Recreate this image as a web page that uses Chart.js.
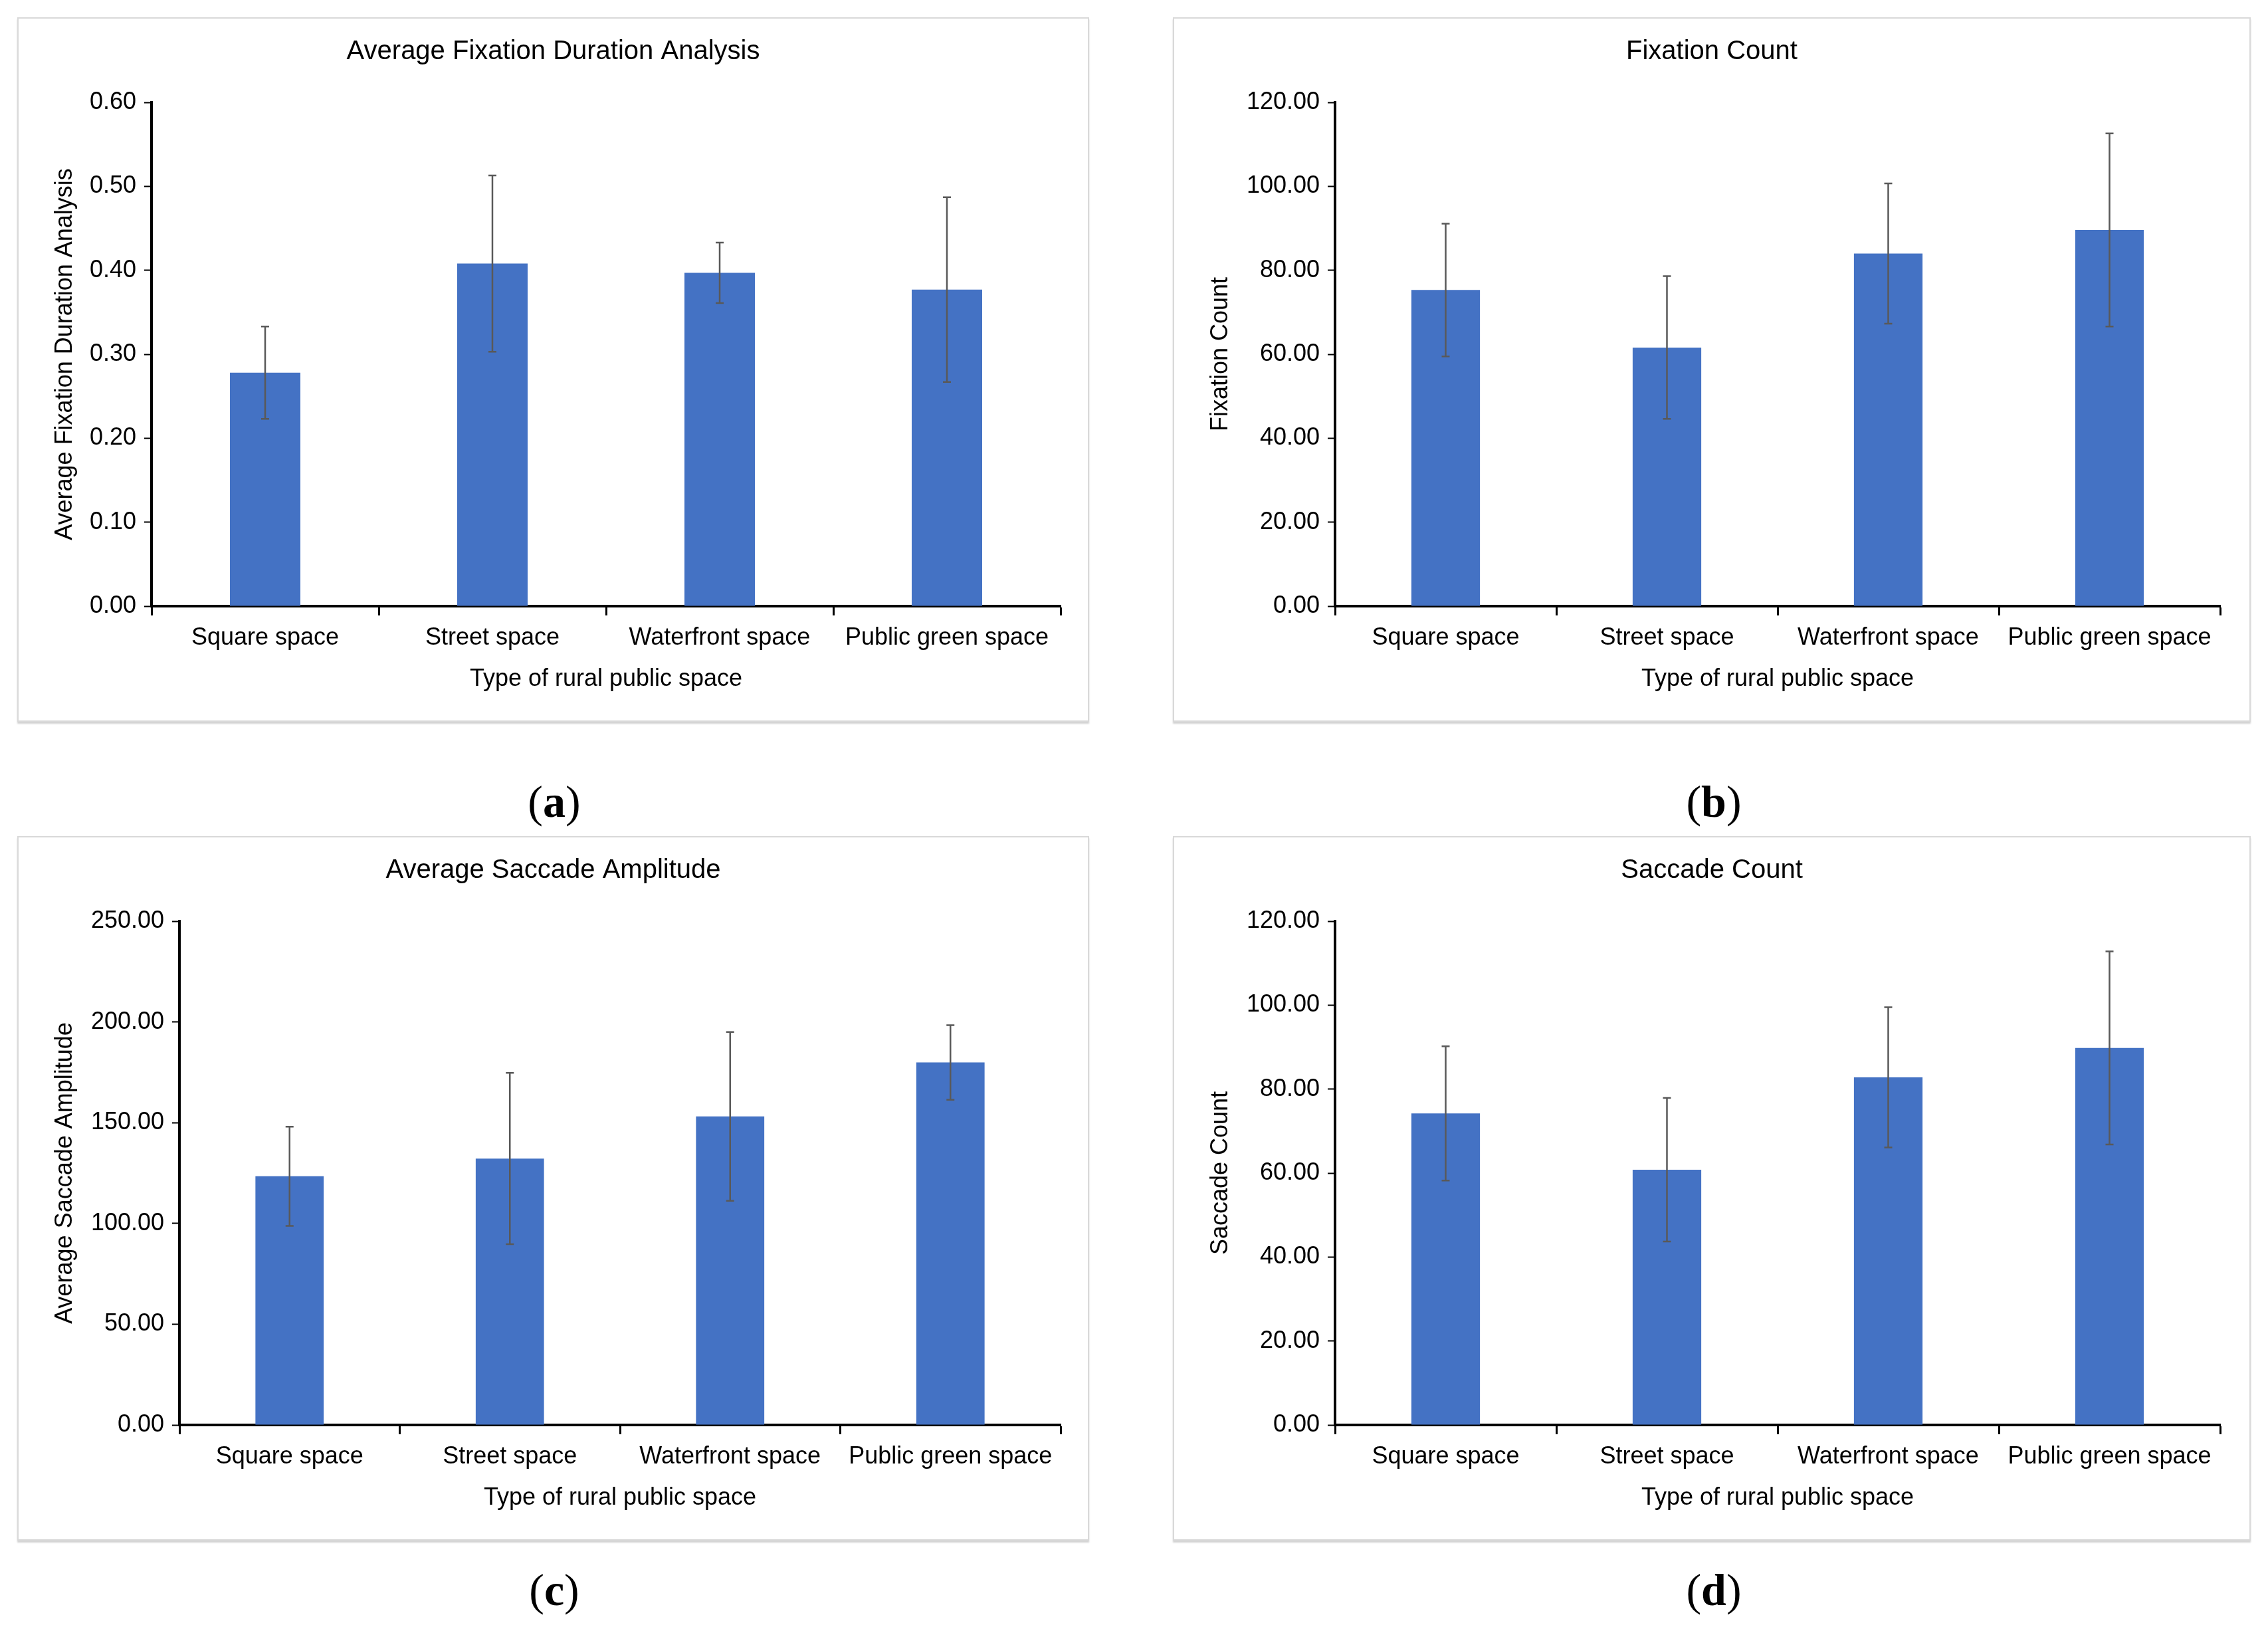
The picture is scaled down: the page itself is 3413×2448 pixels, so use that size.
<!DOCTYPE html>
<html>
<head>
<meta charset="utf-8">
<script src="https://cdn.jsdelivr.net/npm/chart.js@4.4.1/dist/chart.umd.min.js"></script>
<style>
  body { margin: 0; background: #fff; width: 3413px; height: 2448px; position: relative; overflow: hidden; }
  .panel { position: absolute; box-sizing: border-box; border: 2px solid #d9d9d9; box-shadow: 0 3px 2px #d4d4d4; background: #fff; }
  .panel canvas { position: absolute; left: 0; top: 0; }
  .cap { position: absolute; width: 200px; margin-left: -100px; text-align: center; font-family: "Liberation Serif", "DejaVu Serif", serif; font-size: 68px; color: #000; line-height: 80px; }
</style>
</head>
<body>
<div class="panel" id="pa" style="left:26px;top:26px;width:1613px;height:1060px"><canvas id="ca"></canvas></div>
<div class="panel" id="pb" style="left:1765px;top:26px;width:1622px;height:1060px"><canvas id="cb"></canvas></div>
<div class="panel" id="pc" style="left:26px;top:1258px;width:1613px;height:1060px"><canvas id="cc"></canvas></div>
<div class="panel" id="pd" style="left:1765px;top:1258px;width:1622px;height:1060px"><canvas id="cd"></canvas></div>
<div class="cap" style="left:834px;top:1166px">(<b>a</b>)</div>
<div class="cap" style="left:2579px;top:1166px">(<b>b</b>)</div>
<div class="cap" style="left:834px;top:2352px">(<b>c</b>)</div>
<div class="cap" style="left:2579px;top:2352px">(<b>d</b>)</div>
<script>
// categories
const spaceTypes = ['Square space', 'Street space', 'Waterfront space', 'Public green space'];

// (a) average fixation duration
const fixDuration = [0.278, 0.408, 0.397, 0.377];
const fixDurationErr = [0.055, 0.105, 0.036, 0.110];
// (b) fixation count
const fixCount = [75.3, 61.6, 84.0, 89.6];
const fixCountErr = [15.8, 17.0, 16.7, 23.0];
// (c) average saccade amplitude
const sacAmp = [123.4, 132.2, 153.1, 179.9];
const sacAmpErr = [24.6, 42.5, 41.9, 18.5];
// (d) saccade count
const sacCount = [74.2, 60.8, 82.8, 89.8];
const sacCountErr = [16.0, 17.1, 16.7, 23.0];

const FONT = '"Liberation Sans", Arial, sans-serif';
const BAR_BLUE = '#4472C4';

// error bars, drawn from the y scale
const errorBarPlugin = {
  id: 'errorBars',
  afterDatasetsDraw(chart) {
    const ctx = chart.ctx;
    const yScale = chart.scales.y;
    const errs = chart.options.plugins.errorBars.errors;
    const meta = chart.getDatasetMeta(0);
    const vals = chart.data.datasets[0].data;
    ctx.save();
    ctx.strokeStyle = '#595959';
    ctx.lineWidth = 2.5;
    meta.data.forEach((bar, i) => {
      const x = bar.x;
      const yTop = yScale.getPixelForValue(vals[i] + errs[i]);
      const yBot = yScale.getPixelForValue(vals[i] - errs[i]);
      ctx.beginPath();
      ctx.moveTo(x, yTop); ctx.lineTo(x, yBot);
      ctx.moveTo(x - 6, yTop); ctx.lineTo(x + 6, yTop);
      ctx.moveTo(x - 6, yBot); ctx.lineTo(x + 6, yBot);
      ctx.stroke();
    });
    ctx.restore();
  }
};

// title centred on the whole panel (the built-in one is centred inside the padding)
const panelTitlePlugin = {
  id: 'panelTitle',
  afterDraw(chart) {
    const ctx = chart.ctx;
    ctx.save();
    ctx.fillStyle = '#000';
    ctx.font = '40px ' + FONT;
    ctx.textAlign = 'center';
    ctx.textBaseline = 'middle';
    ctx.fillText(chart.options.plugins.panelTitle.text, chart.width / 2, 50);
    ctx.restore();
  }
};

function makeChart(canvasId, panelId, title, yTitle, values, errors, yMax, step, yAxisWidth, rightPad) {
  const panel = document.getElementById(panelId);
  const cv = document.getElementById(canvasId);
  cv.width = panel.clientWidth;
  cv.height = panel.clientHeight;
  cv.style.width = panel.clientWidth + 'px';
  cv.style.height = panel.clientHeight + 'px';

  return new Chart(cv, {
    type: 'bar',
    data: {
      labels: spaceTypes,
      datasets: [{
        data: values,
        backgroundColor: BAR_BLUE,
        borderWidth: 0,
        categoryPercentage: 1.0,
        barPercentage: 0.31
      }]
    },
    plugins: [errorBarPlugin, panelTitlePlugin],
    options: {
      responsive: false,
      animation: false,
      devicePixelRatio: 1,
      layout: { padding: { left: 0, right: rightPad, top: 126, bottom: 0 } },
      plugins: {
        legend: { display: false },
        tooltip: { enabled: false },
        title: { display: false },
        panelTitle: { text: title },
        errorBars: { errors: errors }
      },
      scales: {
        x: {
          afterFit: (s) => { s.height = 172; },
          grid: { display: true, offset: true, drawOnChartArea: false, drawTicks: true, tickLength: 14, tickColor: '#000', tickWidth: 3 },
          border: { display: true, color: '#000', width: 4 },
          ticks: { color: '#000', padding: 12, font: { family: FONT, size: 36 }, maxRotation: 0, autoSkip: false },
          title: { display: true, text: 'Type of rural public space', color: '#000', font: { family: FONT, size: 36 }, padding: { top: 0, bottom: 40 } }
        },
        y: {
          min: 0,
          max: yMax,
          afterFit: (s) => { s.width = yAxisWidth; },
          grid: { display: true, drawOnChartArea: false, drawTicks: true, tickLength: 11, tickColor: '#000', tickWidth: 2 },
          border: { display: true, color: '#000', width: 4 },
          ticks: {
            stepSize: step,
            color: '#000',
            padding: 12,
            font: { family: FONT, size: 36 },
            callback: (v) => Number(v).toFixed(2)
          },
          title: { display: true, text: yTitle, color: '#000', font: { family: FONT, size: 36 }, padding: { top: 48, bottom: 0 } }
        }
      }
    }
  });
}

makeChart('ca', 'pa', 'Average Fixation Duration Analysis', 'Average Fixation Duration Analysis', fixDuration, fixDurationErr, 0.6, 0.1, 200, 41);
makeChart('cb', 'pb', 'Fixation Count', 'Fixation Count', fixCount, fixCountErr, 120, 20, 242, 44);
makeChart('cc', 'pc', 'Average Saccade Amplitude', 'Average Saccade Amplitude', sacAmp, sacAmpErr, 250, 50, 242, 41);
makeChart('cd', 'pd', 'Saccade Count', 'Saccade Count', sacCount, sacCountErr, 120, 20, 242, 44);
</script>
</body>
</html>
